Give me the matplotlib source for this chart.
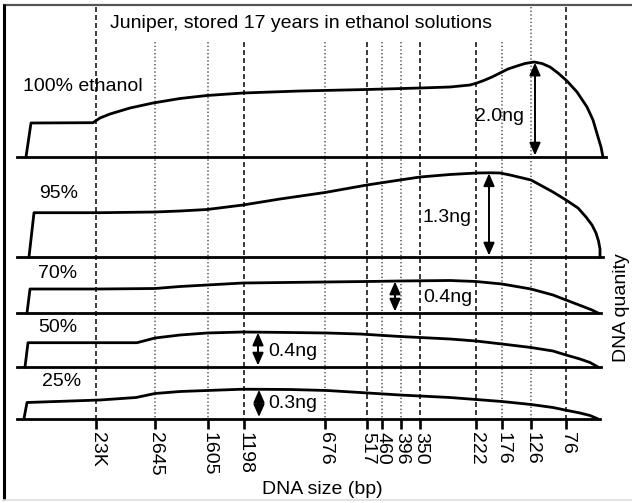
import numpy as np
import matplotlib
matplotlib.use("Agg")
import matplotlib.pyplot as plt

plt.rcParams['font.family'] = ['Liberation Sans', 'DejaVu Sans']

# ---------------- data ----------------
title = "Juniper, stored 17 years in ethanol solutions"
size_labels = ['23K', '2645', '1605', '1198', '676', '517', '460', '396', '350',
               '222', '176', '126', '76']
# migration distance of each size marker (same units as curve x)
size_pos = [96, 154.5, 207.5, 243.5, 325, 366.5, 382, 400.5, 420, 475.5, 502, 531, 566]
dashed_markers = ['23K', '1198', '517', '350', '222', '76']

panel_names = ['100% ethanol', '95%', '70%', '50%', '25%']

x100 = [26, 31, 93, 100, 110, 130, 153, 180, 207, 243, 300, 367, 420, 450, 470, 477,
        485, 492, 500, 508, 517, 525, 534, 542, 550, 558, 567, 577, 587, 593, 598, 601, 603]
h100 = [0, 34, 34.3, 39, 43, 49, 54, 58.5, 61.5, 64, 66, 67.5, 69, 70, 72, 74,
        77, 80, 84, 88, 91, 93.5, 95, 93.5, 90, 84, 76, 65, 50, 37, 20, 10, 0]

x95 = [29, 34, 100, 155, 180, 207, 243, 280, 325, 367, 400, 420, 450, 477, 490, 500,
       510, 531, 553, 566, 578, 586, 592, 596, 598.5, 600, 600]
h95 = [0, 44.3, 44.3, 45, 46, 47.5, 52, 58, 64.5, 72, 77, 80, 82.5, 84, 84.2, 84,
       82, 77, 65, 57, 49, 40, 32, 24, 16, 8, 0]

x70 = [27, 30, 100, 155, 180, 207, 243, 325, 367, 400, 450, 476, 502, 531, 553, 566,
       583, 592, 598]
h70 = [0, 24, 24, 24.5, 26.5, 28, 30, 31, 31.5, 32, 32.5, 31.5, 29, 24, 18, 13,
       6.5, 3, 0]

x50 = [25, 28, 100, 137, 155, 180, 207, 243, 290, 327, 360, 400, 450, 476, 502, 531,
       553, 566, 580, 590, 598]
h50 = [0, 24.3, 24.3, 24.3, 29, 32, 34, 35, 34.5, 34, 33, 30.5, 28, 26, 23, 19.5,
       16, 12, 8, 4.5, 0]

x25 = [24, 27, 100, 136, 155, 180, 207, 243, 290, 327, 360, 400, 450, 476, 502, 531,
       553, 566, 580, 590, 597]
h25 = [0, 16, 18.5, 21, 25, 27, 28, 29.3, 29, 28, 26, 23.5, 21, 19, 17, 14,
       11, 8.3, 5.5, 3, 0]

arrow_pos = [535, 489, 395, 258, 259]
amount_labels = ['2.0ng', '1.3ng', '0.4ng', '0.4ng', '0.3ng']

xs = [x100, x95, x70, x50, x25]
hs = [h100, h95, h70, h50, h25]

# ---------------- layout ----------------
W, H = 632, 503
baselines = [157, 257, 313, 367, 418.5]
name_xy = [(23, 86), (39, 194), (38, 273), (38, 328), (42, 382)]
amount_xy = [(524, 116, 'right'), (472, 217, 'right'), (423, 297, 'left'),
             (268, 352, 'left'), (268, 404, 'left')]
tick_len = 10
fs = 14

fig = plt.figure(figsize=(W / 100, H / 100), dpi=100)
ax = fig.add_axes([0, 0, 1, 1])
ax.set_xlim(0, W)
ax.set_ylim(H, 0)
ax.axis('off')

# frame
ax.plot([3, W], [5, 5], color='#555555', lw=1.6, solid_capstyle='butt')
ax.plot([3.5, 3.5], [4, 500], color='black', lw=2.2, solid_capstyle='butt')
ax.plot([3, W], [499.5, 499.5], color='#dddddd', lw=1.2)

ttl = ax.text(110, 23, title, fontsize=fs, ha='left', va='center')
fig.canvas.draw()
bb = ttl.get_window_extent().transformed(ax.transData.inverted())
t_x0, t_x1 = min(bb.x0, bb.x1), max(bb.x0, bb.x1)
t_bottom = max(bb.y0, bb.y1)

bottom_base = baselines[-1]
for lab, xp in zip(size_labels, size_pos):
    top = t_bottom + 10 if (t_x0 - 5 <= xp <= t_x1 + 10) else 7
    if lab in dashed_markers:
        ax.plot([xp, xp], [top, bottom_base], color='#1a1a1a', lw=1.2,
                linestyle=(0, (3.0, 1.8)), zorder=1)
    else:
        ax.plot([xp, xp], [top, bottom_base], color='#555555', lw=1.1,
                linestyle=(0, (0.9, 1.5)), zorder=1)
    ax.plot([xp, xp], [bottom_base, bottom_base + tick_len], color='black', lw=1.9,
            solid_capstyle='butt', zorder=2)
    ax.text(xp + 1, bottom_base + tick_len + 3, lab, rotation=270, fontsize=fs,
            ha='center', va='top')

for i, (x, h) in enumerate(zip(xs, hs)):
    b = baselines[i]
    x = np.asarray(x, float)
    h = np.asarray(h, float)
    ax.plot([17, x[-1] + 3], [b, b], color='black', lw=2.0, zorder=3)
    ax.plot(x, b - h, color='black', lw=2.0, zorder=3, solid_joinstyle='round')
    ax.text(name_xy[i][0], name_xy[i][1], panel_names[i], fontsize=fs,
            ha='left', va='center')
    ap = arrow_pos[i]
    top = b - np.interp(ap, x, h)
    ax.annotate('', xy=(ap, top + 0.5), xytext=(ap, b - 1.5),
                arrowprops=dict(arrowstyle='<|-|>,head_length=0.5,head_width=0.22',
                                lw=1.4, color='black', mutation_scale=15,
                                shrinkA=0, shrinkB=0), zorder=4)
    ax_, ay_, ha_ = amount_xy[i]
    ax.text(ax_, ay_, amount_labels[i], fontsize=fs, ha=ha_, va='center')

ax.text(322, 490, 'DNA size (bp)', fontsize=fs, ha='center', va='center')
ax.text(622, 308, 'DNA quanity', fontsize=fs, rotation=90, ha='center', va='center')

fig.savefig('out.png', dpi=100)
